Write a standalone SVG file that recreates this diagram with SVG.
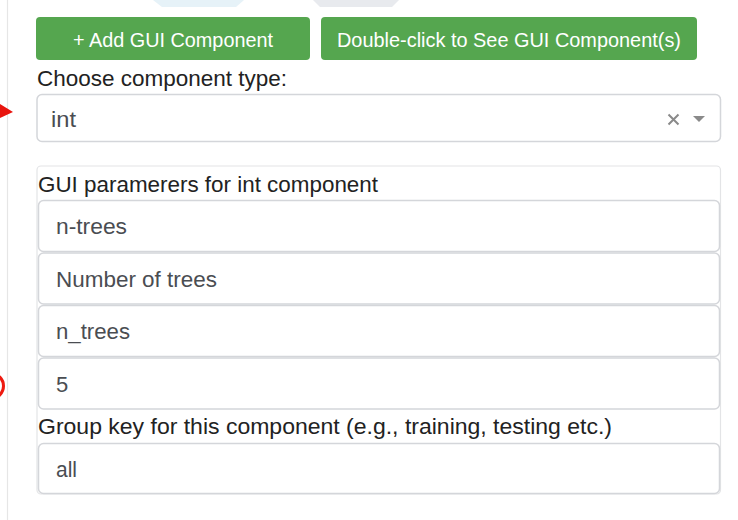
<svg xmlns="http://www.w3.org/2000/svg" width="738" height="520" viewBox="0 0 738 520">
  <style>
    text { font-family: "Liberation Sans", Arial, sans-serif; }
    .btn { fill: #55a64f; }
    .btn-label { fill: #ffffff; font-size: 21px; }
    .label { fill: #222222; font-size: 22px; }
    .field { fill: #ffffff; stroke: #d4d6da; stroke-width: 1.5; }
    .value { fill: #4a4d52; font-size: 22px; }
    .panel { fill: #ffffff; stroke: #e3e4e6; stroke-width: 1.2; }
  </style>
  <rect width="738" height="520" fill="#ffffff"/>

  <!-- faint shapes at the top edge -->
  <path d="M153,0 L244,0 L236,7 L162,7 Z" fill="#e6f2f8"/>
  <path d="M313,0 L399,0 L392,7 L320,7 Z" fill="#e8eaee"/>

  <!-- left divider -->
  <line x1="7.5" y1="0" x2="7.5" y2="520" stroke="#e6e6e6" stroke-width="1.2"/>

  <!-- red marks at the left edge -->
  <path d="M0,104 L13,112 L0,118 Z" fill="#e8140e"/>
  <circle cx="-9" cy="386" r="12.5" fill="none" stroke="#ee1a10" stroke-width="3"/>

  <g id="add-button">
    <rect class="btn" x="36" y="17" width="274" height="43" rx="4"/>
    <text class="btn-label" x="73" y="47" textLength="200" lengthAdjust="spacingAndGlyphs">+ Add GUI Component</text>
  </g>
  <g id="see-button">
    <rect class="btn" x="321" y="17" width="376" height="43" rx="4"/>
    <text class="btn-label" x="337" y="47" textLength="344" lengthAdjust="spacingAndGlyphs">Double-click to See GUI Component(s)</text>
  </g>

  <g id="type-select">
    <text class="label" x="37" y="86" textLength="250" lengthAdjust="spacingAndGlyphs">Choose component type:</text>
    <rect class="field" x="37" y="94.5" width="683.5" height="47" rx="5"/>
    <text class="value" x="51" y="127" fill="#222" textLength="25" lengthAdjust="spacingAndGlyphs">int</text>
    <path d="M668.5,114.5 L678.5,124.5 M678.5,114.5 L668.5,124.5" stroke="#8a8a8a" stroke-width="2"/>
    <path d="M693,116 L705,116 L699,122 Z" fill="#8a8a8a"/>
  </g>

  <g id="params-panel">
    <rect class="panel" x="37" y="166" width="683.5" height="328" rx="4"/>
    <text class="label" x="38" y="191.5" textLength="340" lengthAdjust="spacingAndGlyphs">GUI paramerers for int component</text>
  </g>
  <g id="field-name">
    <rect class="field" x="38.5" y="200.5" width="681" height="51" rx="5"/>
    <text class="value" x="56" y="234" textLength="71" lengthAdjust="spacingAndGlyphs">n-trees</text>
  </g>
  <g id="field-label">
    <rect class="field" x="38.5" y="253" width="681" height="51" rx="5"/>
    <text class="value" x="56" y="286.5" textLength="161" lengthAdjust="spacingAndGlyphs">Number of trees</text>
  </g>
  <g id="field-key">
    <rect class="field" x="38.5" y="305.5" width="681" height="51" rx="5"/>
    <text class="value" x="56" y="339" textLength="74" lengthAdjust="spacingAndGlyphs">n_trees</text>
  </g>
  <g id="field-default">
    <rect class="field" x="38.5" y="358" width="681" height="51" rx="5"/>
    <text class="value" x="56" y="392">5</text>
  </g>
  <g id="group-key">
    <text class="label" x="38" y="434" textLength="574" lengthAdjust="spacingAndGlyphs">Group key for this component (e.g., training, testing etc.)</text>
    <rect class="field" x="38.5" y="443.5" width="681" height="50" rx="5"/>
    <text class="value" x="56" y="477" textLength="21" lengthAdjust="spacingAndGlyphs">all</text>
  </g>
</svg>
